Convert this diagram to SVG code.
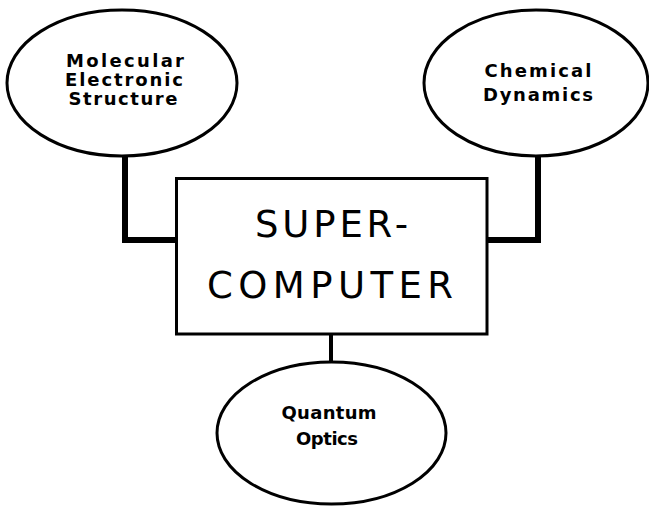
<svg xmlns="http://www.w3.org/2000/svg" width="649" height="506" viewBox="0 0 649 506">
<style>
.node{fill:#fff;stroke:#000;stroke-width:3}
.lbl{font-family:"DejaVu Sans","Liberation Sans",sans-serif;font-weight:bold;font-size:18px;fill:#000;text-anchor:middle}
.big{font-family:"DejaVu Sans","Liberation Sans",sans-serif;font-size:37px;fill:#000;text-anchor:middle}
.conn{fill:none;stroke:#000;stroke-width:6;stroke-linejoin:miter}
</style>
<rect width="649" height="506" fill="#fff"/>
<g id="connectors">
<path class="conn" d="M125 155 V240 H177"/>
<path class="conn" d="M538 156 V240 H487"/>
<path class="conn" style="stroke-width:4" d="M331 334 V362"/>
</g>
<g id="molecular">
<ellipse class="node" cx="122" cy="83" rx="115" ry="73"/>
<text class="lbl" x="125" y="67" textLength="118" lengthAdjust="spacing">Molecular</text>
<text class="lbl" x="124" y="86" textLength="118" lengthAdjust="spacing">Electronic</text>
<text class="lbl" x="123" y="105" textLength="109" lengthAdjust="spacing">Structure</text>
</g>
<g id="chemical">
<ellipse class="node" cx="536" cy="83" rx="112" ry="73"/>
<text class="lbl" x="538" y="77" textLength="107" lengthAdjust="spacing">Chemical</text>
<text class="lbl" x="538" y="101" textLength="110" lengthAdjust="spacing">Dynamics</text>
</g>
<g id="supercomputer">
<rect class="node" x="176.5" y="178.5" width="310.5" height="155.5"/>
<text class="big" x="331.5" y="237" textLength="153" lengthAdjust="spacing">SUPER-</text>
<text class="big" x="330" y="298" textLength="246" lengthAdjust="spacing">COMPUTER</text>
</g>
<g id="quantum">
<ellipse class="node" cx="331.5" cy="433" rx="114.5" ry="71"/>
<text class="lbl" x="329" y="419" textLength="95" lengthAdjust="spacing">Quantum</text>
<text class="lbl" x="327" y="445" textLength="62" lengthAdjust="spacing">Optics</text>
</g>
</svg>
